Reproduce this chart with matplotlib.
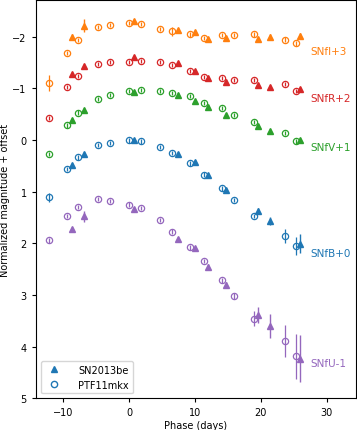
import matplotlib
matplotlib.use("Agg")
import matplotlib.pyplot as plt
import numpy as np

# Phases
ptf_phase = [-12.25, -9.5, -7.7, -4.76, -2.9, 0.0, 1.8, 4.7, 6.5, 9.3, 11.3, 14.1, 16.0, 18.9, 23.7, 25.4]
sn_phase = [-8.7, -6.8, 0.7, 7.35, 10.0, 12.0, 14.7, 19.5, 21.4, 26.0]

# PTF11mkx (circles) normalized magnitude + offset
ptf_I = [-1.10, -1.69, -1.94, -2.19, -2.23, -2.27, -2.25, -2.14, -2.10, -2.04, -1.97, -2.03, -2.03, -2.04, -1.94, -1.87]
ptf_R = [-0.42, -1.02, -1.24, -1.47, -1.50, -1.51, -1.52, -1.50, -1.45, -1.34, -1.21, -1.20, -1.16, -1.16, -1.08, -0.95]
ptf_V = [0.27, -0.28, -0.53, -0.80, -0.87, -0.94, -0.97, -0.94, -0.90, -0.85, -0.72, -0.61, -0.48, -0.35, -0.13, 0.03]
ptf_B = [1.11, 0.56, 0.34, 0.10, 0.06, 0.01, 0.03, 0.14, 0.25, 0.45, 0.67, 0.94, 1.16, 1.47, 1.86, 2.05]
ptf_U = [1.94, 1.47, 1.29, 1.15, 1.19, 1.25, 1.32, 1.55, 1.78, 2.08, 2.34, 2.72, 3.02, 3.46, 3.90, 4.19]

ptf_I_err = [0.15, 0.04, 0.04, 0.04, 0.04, 0.04, 0.04, 0.04, 0.08, 0.04, 0.04, 0.04, 0.04, 0.04, 0.05, 0.05]
ptf_R_err = [0.04] * 16
ptf_V_err = [0.04] * 16
ptf_B_err = [0.09, 0.04, 0.04, 0.04, 0.04, 0.04, 0.04, 0.04, 0.04, 0.05, 0.04, 0.04, 0.04, 0.04, 0.14, 0.18]
ptf_U_err = [0.05, 0.04, 0.04, 0.04, 0.04, 0.04, 0.04, 0.04, 0.05, 0.05, 0.04, 0.05, 0.06, 0.15, 0.31, 0.44]

# SN2013be (triangles)
sn_I = [-2.00, -2.21, -2.30, -2.12, -2.08, -1.95, -1.97, -1.96, -2.00, -2.01]
sn_R = [-1.28, -1.43, -1.61, -1.48, -1.33, -1.19, -1.12, -1.07, -1.03, -0.98]
sn_V = [-0.39, -0.57, -0.93, -0.87, -0.76, -0.64, -0.49, -0.26, -0.17, 0.01]
sn_B = [0.49, 0.27, 0.00, 0.28, 0.43, 0.68, 0.97, 1.37, 1.57, 2.01]
sn_U = [1.72, 1.48, 1.33, 1.91, 2.10, 2.45, 2.81, 3.39, 3.60, 4.23]

sn_I_err = [0.04, 0.13, 0.04, 0.04, 0.04, 0.04, 0.04, 0.04, 0.04, 0.05]
sn_R_err = [0.04] * 10
sn_V_err = [0.04] * 10
sn_B_err = [0.04, 0.04, 0.04, 0.04, 0.04, 0.04, 0.04, 0.05, 0.08, 0.18]
sn_U_err = [0.04, 0.10, 0.04, 0.04, 0.04, 0.05, 0.06, 0.15, 0.24, 0.46]

band_labels = ["SNfI+3", "SNfR+2", "SNfV+1", "SNfB+0", "SNfU-1"]
band_colors = ["#ff7f0e", "#d62728", "#2ca02c", "#1f77b4", "#9467bd"]
label_y = [-1.72, -0.82, 0.14, 2.18, 4.32]
label_x = 27.6

ptf_sets = [(ptf_I, ptf_I_err), (ptf_R, ptf_R_err), (ptf_V, ptf_V_err), (ptf_B, ptf_B_err), (ptf_U, ptf_U_err)]
sn_sets = [(sn_I, sn_I_err), (sn_R, sn_R_err), (sn_V, sn_V_err), (sn_B, sn_B_err), (sn_U, sn_U_err)]

fig = plt.figure(figsize=(3.57, 4.31), dpi=100)
ax = fig.add_axes([0.100, 0.0735, 0.896, 0.9245])

for (pm, pe), (sm, se), col, lab, ly in zip(ptf_sets, sn_sets, band_colors, band_labels, label_y):
    ax.errorbar(sn_phase, sm, yerr=se, fmt='^', color=col, ms=4.8, elinewidth=1, capsize=0)
    ax.errorbar(ptf_phase, pm, yerr=pe, fmt='o', color=col, mfc='none', mec=col, ms=4.5,
                mew=0.9, elinewidth=0.9, capsize=0)
    ax.text(label_x, ly, lab, color=col, fontsize=7.5, va='center', ha='left')

ax.set_xlim(-14.2, 34.4)
ax.set_ylim(5.0, -2.71)
ax.set_xticks([-10, 0, 10, 20, 30])
ax.set_yticks([-2, -1, 0, 1, 2, 3, 4, 5])
ax.tick_params(labelsize=7, length=3)
ax.set_xlabel("Phase (days)", fontsize=7, labelpad=2)
ax.set_ylabel("Normalized magnitude + offset", fontsize=7, labelpad=2)

h1 = ax.errorbar([], [], fmt='^', color='#1f77b4', ms=4.8)
h2 = ax.errorbar([], [], fmt='o', color='#1f77b4', mfc='none', ms=4.5)
ax.legend([h1, h2], ["SN2013be", "PTF11mkx"], loc='lower left', fontsize=7, handletextpad=1.5)

fig.savefig("out.png", dpi=100)
